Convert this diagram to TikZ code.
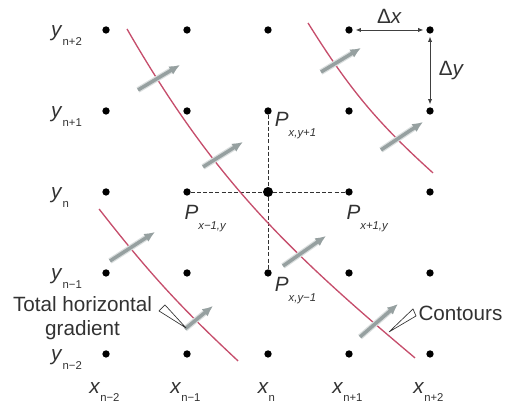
\documentclass[tikz,border=0pt]{standalone}
\usepackage{fontspec}
\setmainfont{Liberation Sans}
\usepackage{tikz}
\usetikzlibrary{arrows.meta,positioning}
\definecolor{contourred}{RGB}{198,78,108}
\definecolor{gradgray}{RGB}{150,160,160}
\definecolor{inkgray}{RGB}{50,50,50}
\newcommand{\axlbl}[2]{\textit{#1}\raisebox{-.8ex}{\fontsize{8.5}{10}\selectfont #2}}
\newcommand{\ptlbl}[1]{\textit{P}\raisebox{-.9ex}{\fontsize{8.5}{10}\selectfont\itshape #1}}
\tikzset{
 griddot/.style={circle,fill=black,inner sep=0pt,minimum size=5.5pt},
 contour/.style={contourred,line width=1pt},
 gradarrow/.style={-{Latex[length=8pt,width=7pt]},gradgray,line width=2.6pt,
  preaction={draw=gradgray!35,line width=4.4pt}},
 callout/.style={inkgray,line width=.5pt,line join=round},
 spacing/.style={{Latex[length=4pt,width=3.2pt]}-{Latex[length=4pt,width=3.2pt]},
  black!75,line width=.6pt,shorten <=2pt,shorten >=2pt},
 neighbour/.style={inkgray,line width=.6pt,dash pattern=on 3pt off 1.6pt}
}

\begin{document}
\begin{tikzpicture}[x=60.75pt,y=60.75pt,>=Latex,
 every node/.style={font=\fontsize{15.5}{17.5}\selectfont,text=inkgray}]
 \useasboundingbox (-1.309,-.654) rectangle (4.938,4.370);

 % sample points of the grid
 \foreach \i in {0,...,4}
  \foreach \j in {0,...,4}
   \node[griddot] (d\i\j) at (\i,\j) {};
 \node[griddot,minimum size=7.5pt] (pxy) at (d22) {};

 % row and column labels
 \foreach \j/\s in {0/n−2,1/n−1,2/n,3/n+1,4/n+2}
  \node[anchor=west,inner sep=0pt] (ylbl\j) at (-.68,\j-.07) {\axlbl{y}{\s}};
 \foreach \i/\s in {0/n−2,1/n−1,2/n,3/n+1,4/n+2}
  \node (xlbl\i) at (\i-.02,-.47) {\axlbl{x}{\s}};

 % the four neighbours of P
 \draw[neighbour] (d12)--(pxy);
 \draw[neighbour] (pxy)--(d32);
 \draw[neighbour] (d23)--(pxy);
 \draw[neighbour] (pxy)--(d21);
 \node[anchor=north west,inner sep=0pt] (pup)
  at ([xshift=5pt,yshift=-1pt]d23.center) {\ptlbl{x,y+1}};
 \node[anchor=north west,inner sep=0pt] (pleft)
  at ([xshift=-2pt,yshift=-10pt]d12.center) {\ptlbl{x−1,y}};
 \node[anchor=north west,inner sep=0pt] (pright)
  at ([xshift=-2pt,yshift=-10pt]d32.center) {\ptlbl{x+1,y}};
 \node[anchor=north west,inner sep=0pt] (pdown)
  at ([xshift=5pt,yshift=-3pt]d21.center) {\ptlbl{x,y−1}};

 % grid spacing
 \draw[spacing] (d34)--(d44) node[midway,above=1pt] (dxlbl) {Δ\textit{x}};
 \draw[spacing] (d44)--(d43) node[midway,right=3pt] (dylbl) {Δ\textit{y}};

 % contours
 \draw[contour] (.259,4.012) to[out=-60,in=140] (3.815,-.049);
 \draw[contour] (-.086,1.790) to[out=-52,in=137] (1.630,-.086);
 \draw[contour] (2.494,4.086) to[out=-58,in=138] (4.037,2.235);

 % total horizontal gradient across the contours
 \draw[gradarrow] (.395,3.259)--(.914,3.568);
 \draw[gradarrow] (1.198,2.309)--(1.691,2.617);
 \draw[gradarrow] (2.185,1.086)--(2.716,1.457);
 \draw[gradarrow] (3.136,.210)--(3.605,.617);
 \draw[gradarrow] (.049,1.148)--(.605,1.506);
 \draw[gradarrow] (.975,.309)--(1.321,.593);
 \draw[gradarrow] (2.654,3.481)--(3.148,3.778);
 \draw[gradarrow] (3.395,2.519)--(3.914,2.864);

 % callouts
 \node[align=center,inner sep=0pt] (gradlbl) at (-.29,.444)
  {Total horizontal\\gradient};
 \coordinate (gradtip) at (.988,.321);
 \draw[callout] (.654,.531)--(gradtip)--(.728,.605)--cycle;
 \node[anchor=west,inner sep=0pt] (conlbl) at (3.855,.506) {Contours};
 \coordinate (contip) at (3.494,.272);
 \draw[callout] (3.790,.556)--(contip)--(3.827,.469)--cycle;
\end{tikzpicture}
\end{document}
